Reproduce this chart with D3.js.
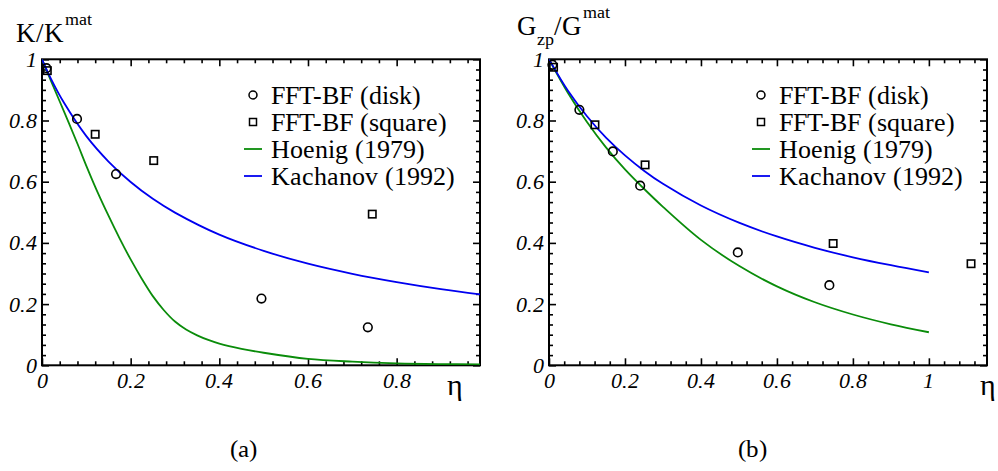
<!DOCTYPE html>
<html><head><meta charset="utf-8">
<script src="https://cdn.jsdelivr.net/npm/d3@7"></script>
</head><body style="margin:0">
<svg id="c" width="998" height="471"></svg>
<script>
// ---------- data : panel (a) K/K^mat ----------
const etaDiskA   = [0.010, 0.079, 0.167, 0.495, 0.735];
const kDiskA     = [0.971, 0.805, 0.625, 0.218, 0.124];
const etaSquareA = [0.012, 0.120, 0.252, 0.745];
const kSquareA   = [0.963, 0.755, 0.669, 0.494];
const etaHoenigA = [0, 0.02, 0.05, 0.08, 0.10, 0.125, 0.15, 0.175, 0.20, 0.225, 0.25, 0.275, 0.30, 0.325, 0.35, 0.375, 0.40, 0.45, 0.50, 0.60, 0.70, 0.80, 0.90, 0.988];
const kHoenigA   = [1, 0.93, 0.828, 0.724, 0.652, 0.567, 0.489, 0.415, 0.346, 0.283, 0.226, 0.180, 0.143, 0.117, 0.098, 0.083, 0.071, 0.054, 0.041, 0.021, 0.012, 0.0065, 0.004, 0.003];
const etaKachA   = [0, 0.02, 0.05, 0.10, 0.15, 0.20, 0.25, 0.30, 0.40, 0.50, 0.60, 0.70, 0.80, 0.90, 0.988];
const kKachA     = [1, 0.937, 0.857, 0.749, 0.666, 0.599, 0.544, 0.499, 0.427, 0.374, 0.332, 0.299, 0.272, 0.249, 0.232];

// ---------- data : panel (b) G_zp/G^mat ----------
const etaDiskB   = [0.009, 0.080, 0.168, 0.240, 0.497, 0.738];
const gDiskB     = [0.982, 0.835, 0.699, 0.587, 0.369, 0.262];
const etaSquareB = [0.012, 0.121, 0.253, 0.748, 1.111];
const gSquareB   = [0.974, 0.786, 0.655, 0.398, 0.332];
const etaHoenigB = [0, 0.05, 0.10, 0.15, 0.20, 0.25, 0.30, 0.40, 0.50, 0.60, 0.70, 0.80, 0.90, 1.0];
const gHoenigB   = [1, 0.89, 0.795, 0.712, 0.64, 0.577, 0.518, 0.41, 0.325, 0.258, 0.206, 0.166, 0.134, 0.108];
const etaKachB   = [0, 0.05, 0.10, 0.15, 0.20, 0.25, 0.30, 0.40, 0.50, 0.60, 0.70, 0.80, 0.90, 1.0];
const gKachB     = [1, 0.897, 0.814, 0.744, 0.686, 0.636, 0.593, 0.522, 0.466, 0.421, 0.384, 0.353, 0.327, 0.304];

// ---------- ticks / labels ----------
const xTicksA  = [0, 0.2, 0.4, 0.6, 0.8];
const xLabelsA = ["0", "0.2", "0.4", "0.6", "0.8"];
const xTicksB  = [0, 0.2, 0.4, 0.6, 0.8, 1];
const xLabelsB = ["0", "0.2", "0.4", "0.6", "0.8", "1"];
const yTicks   = [0, 0.2, 0.4, 0.6, 0.8, 1];
const yLabels  = ["0", "0.2", "0.4", "0.6", "0.8", "1"];
const legendNames = ["FFT-BF (disk)", "FFT-BF (square)", "Hoenig (1979)", "Kachanov (1992)"];

const GREEN = "#0a8c0a", BLUE = "#0000f0";

// font alias (maps to the installed Liberation Serif faces)
const st = document.createElement("style");
st.textContent =
  "@font-face{font-family:'PlotSerif';font-style:normal;src:local('Liberation Serif'),local('LiberationSerif');}" +
  "@font-face{font-family:'PlotSerif';font-style:italic;src:local('Liberation Serif Italic'),local('LiberationSerif-Italic');}";
document.head.appendChild(st);

const svg = d3.select("#c");
const zip = (a, b) => a.map((v, i) => [v, b[i]]);
const txt = (sel, italic) => sel.attr("style",
  "font-family:'PlotSerif','Liberation Serif';" + (italic ? "font-style:italic;" : ""));

function panel(p) {
  const x = d3.scaleLinear().domain(p.xDomain).range([p.left, p.right]);
  const y = d3.scaleLinear().domain([0, 1]).range([p.bottom, p.top]);
  const g = svg.append("g");

  svg.append("clipPath").attr("id", "clip" + p.id)
    .append("rect").attr("x", p.left).attr("y", p.top)
    .attr("width", p.right - p.left).attr("height", p.bottom - p.top);

  const isMajor = (v, arr) => arr.some(m => Math.abs(m - v) < 1e-6);
  const xMinor = d3.range(0, p.xDomain[1] + 1e-9, 0.04).filter(v => !isMajor(v, p.xTicks));
  const yMinor = d3.range(0, 1 + 1e-9, 0.2 / 6).filter(v => !isMajor(v, yTicks));

  const axes = [
    [d3.axisBottom(x), p.bottom, "x", p.xTicks, xMinor],
    [d3.axisTop(x), p.top, "x", p.xTicks, xMinor],
    [d3.axisLeft(y), p.left, "y", yTicks, yMinor],
    [d3.axisRight(y), p.right, "y", yTicks, yMinor]
  ];
  axes.forEach(([ax, pos, dir, maj, min]) => {
    [[maj, -7], [min, -4]].forEach(([vals, size]) => {
      const a = ax.tickValues(vals).tickSize(size).tickSizeOuter(0).tickFormat("");
      const gg = g.append("g")
        .attr("transform", dir === "x" ? `translate(0,${pos})` : `translate(${pos},0)`)
        .call(a);
      gg.select(".domain").remove();
      gg.selectAll("text").remove();
      gg.selectAll(".tick line").attr("stroke", "#000").attr("stroke-width", 1.6);
    });
  });

  // frame
  g.append("rect").attr("x", p.left).attr("y", p.top)
    .attr("width", p.right - p.left).attr("height", p.bottom - p.top)
    .attr("fill", "none").attr("stroke", "#000").attr("stroke-width", 2);

  // tick labels
  g.selectAll(".xl").data(p.xTicks).enter().append("text")
    .attr("x", d => x(d)).attr("y", p.bottom + 23)
    .attr("text-anchor", "middle").attr("font-size", 22)
    .call(txt, true).text((d, i) => p.xLabels[i]);
  g.selectAll(".yl").data(yTicks).enter().append("text")
    .attr("x", p.left - 5).attr("y", d => y(d) + 7.5)
    .attr("text-anchor", "end").attr("font-size", 22)
    .call(txt, true).text((d, i) => yLabels[i]);

  // curves
  const line = d3.line().x(d => x(d[0])).y(d => y(d[1])).curve(d3.curveCatmullRom.alpha(0.5));
  const cg = g.append("g").attr("clip-path", `url(#clip${p.id})`);
  cg.append("path").datum(zip(p.hx, p.hy)).attr("d", line)
    .attr("fill", "none").attr("stroke", GREEN).attr("stroke-width", 1.8);
  cg.append("path").datum(zip(p.kx, p.ky)).attr("d", line)
    .attr("fill", "none").attr("stroke", BLUE).attr("stroke-width", 1.8);

  // markers
  g.selectAll(".dc").data(zip(p.dx, p.dy)).enter().append("circle")
    .attr("cx", d => x(d[0])).attr("cy", d => y(d[1])).attr("r", 4.3)
    .attr("fill", "none").attr("stroke", "#000").attr("stroke-width", 1.6);
  g.selectAll(".sq").data(zip(p.sx, p.sy)).enter().append("rect")
    .attr("x", d => x(d[0]) - 3.7).attr("y", d => y(d[1]) - 3.7)
    .attr("width", 7.4).attr("height", 7.4)
    .attr("fill", "none").attr("stroke", "#000").attr("stroke-width", 1.6);

  // legend
  const rows = [95, 122, 149, 176];
  const mx = p.legX;
  g.append("circle").attr("cx", mx).attr("cy", rows[0]).attr("r", 4)
    .attr("fill", "none").attr("stroke", "#000").attr("stroke-width", 1.5);
  g.append("rect").attr("x", mx - 3.5).attr("y", rows[1] - 3.5).attr("width", 7).attr("height", 7)
    .attr("fill", "none").attr("stroke", "#000").attr("stroke-width", 1.5);
  g.append("line").attr("x1", mx - 9).attr("x2", mx + 9).attr("y1", rows[2]).attr("y2", rows[2])
    .attr("stroke", GREEN).attr("stroke-width", 1.8);
  g.append("line").attr("x1", mx - 9).attr("x2", mx + 9).attr("y1", rows[3]).attr("y2", rows[3])
    .attr("stroke", BLUE).attr("stroke-width", 1.8);
  legendNames.forEach((t, i) => {
    g.append("text").attr("x", mx + 18).attr("y", rows[i] + 9)
      .attr("font-size", 26).call(txt, false).text(t);
  });

  // eta label
  g.append("text").attr("x", p.etaX).attr("y", 395).attr("text-anchor", "middle")
    .attr("font-size", 30).call(txt, false).text("η");
  // panel label
  g.append("text").attr("x", p.capX).attr("y", 457).attr("text-anchor", "middle")
    .attr("font-size", 25).call(txt, false).text(p.cap);
  return {x, y};
}

panel({id: "a", left: 42, right: 480, top: 59.3, bottom: 365.3, xDomain: [0, 0.988],
  xTicks: xTicksA, xLabels: xLabelsA,
  dx: etaDiskA, dy: kDiskA, sx: etaSquareA, sy: kSquareA,
  hx: etaHoenigA, hy: kHoenigA, kx: etaKachA, ky: kKachA,
  legX: 253, etaX: 455, capX: 243, cap: "(a)"});
panel({id: "b", left: 549, right: 987, top: 59.3, bottom: 365.3, xDomain: [0, 1.153],
  xTicks: xTicksB, xLabels: xLabelsB,
  dx: etaDiskB, dy: gDiskB, sx: etaSquareB, sy: gSquareB,
  hx: etaHoenigB, hy: gHoenigB, kx: etaKachB, ky: gKachB,
  legX: 761, etaX: 988, capX: 752, cap: "(b)"});

// y-axis titles
const tA = svg.append("text").attr("x", 16).attr("y", 42).attr("font-size", 27).call(txt, false);
tA.append("tspan").text("K/K");
tA.append("tspan").attr("font-size", 18).attr("dy", -17).attr("dx", 1).text("mat");

const tB = svg.append("text").attr("x", 517).attr("y", 35).attr("font-size", 27).call(txt, false);
tB.append("tspan").text("G");
tB.append("tspan").attr("font-size", 18).attr("dy", 10).text("zp");
tB.append("tspan").attr("dy", -10).text("/G");
tB.append("tspan").attr("font-size", 18).attr("dy", -17).attr("dx", 1).text("mat");
</script>
</body></html>
